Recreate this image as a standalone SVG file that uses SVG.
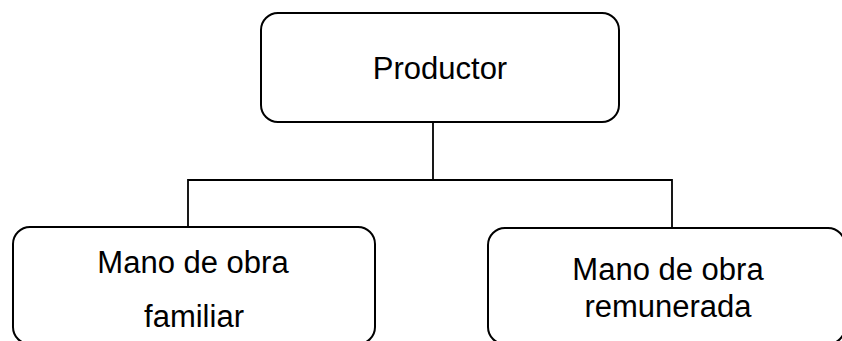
<svg xmlns="http://www.w3.org/2000/svg" width="842" height="341" viewBox="0 0 842 341">
  <style>
    .box { fill: #ffffff; stroke: #000000; stroke-width: 2; }
    .link { fill: none; stroke: #000000; stroke-width: 1.8; }
    .label { font-family: "Liberation Sans", Arial, sans-serif; font-size: 31px; fill: #000000; text-anchor: middle; }
  </style>
  <rect width="842" height="341" fill="#ffffff"/>
  <g id="connectors">
    <path class="link" d="M433 122 V180 M188 227 V180 H672 V228"/>
  </g>
  <g id="productor">
    <rect class="box" x="261" y="13" width="358" height="109" rx="17"/>
    <text class="label" x="440" y="79">Productor</text>
  </g>
  <g id="familiar">
    <rect class="box" x="13" y="227" width="362" height="117" rx="17"/>
    <text class="label" x="193" y="273">Mano de obra</text>
    <text class="label" x="194" y="327">familiar</text>
  </g>
  <g id="remunerada">
    <rect class="box" x="488" y="228" width="357" height="116" rx="17"/>
    <text class="label" x="668" y="280">Mano de obra</text>
    <text class="label" x="668" y="317">remunerada</text>
  </g>
</svg>
